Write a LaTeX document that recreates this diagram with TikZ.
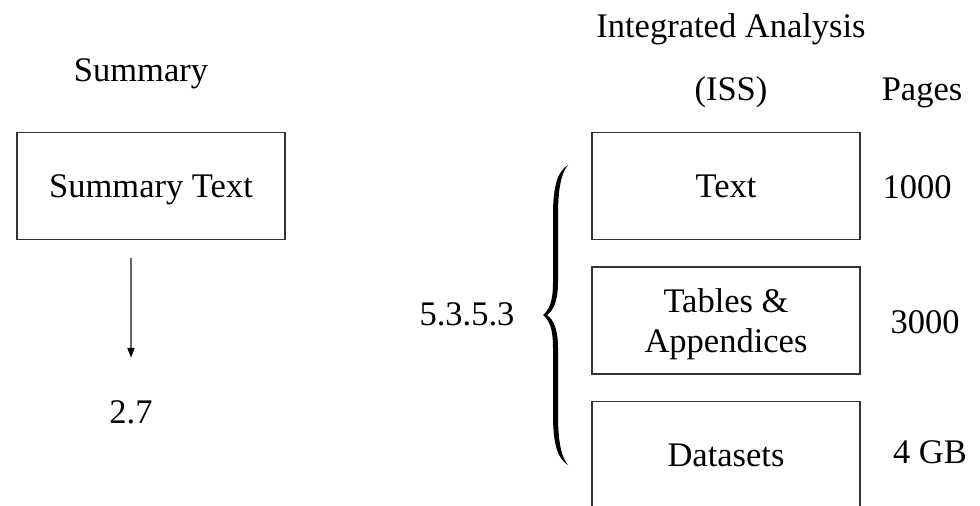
\documentclass[tikz,border=0pt]{standalone}
\usepackage{fontspec}
\setmainfont{Liberation Serif}
\usetikzlibrary{arrows.meta}
\begin{document}
\begin{tikzpicture}[x=0.5pt,y=-0.5pt,
  every node/.style={font=\fontsize{17.25}{20}\selectfont, inner sep=0pt},
  box/.style={draw=black!80, line width=0.7pt, minimum width=134pt, minimum height=53.5pt, align=center},
  one/.style={text height=16pt, text depth=5pt},
  lbl/.style={anchor=base},
  arr/.style={draw=black!60, line width=0.7pt, -{Triangle[width=3.6pt,length=5pt,color=black,fill=black]}}]
\clip (0,0) rectangle (980,505);
\fill[white] (0,0) rectangle (980,505);
% left side
\node[lbl] (sum) at (141,81) {Summary};
\node[box,one] (st) at (151,186) {Summary Text};
\node[lbl] (n27) at (131,423) {2.7};
\draw[arr, shorten <=9pt, shorten >=21pt] (n27 |- st.south) -- (n27);
% right side
\node[lbl] (ia) at (731,37) {Integrated Analysis};
\node[lbl] (iss) at (731,100) {(ISS)};
\node[lbl] (pages) at (922,100) {Pages};
\node[box,one] (tx) at (726,186) {Text};
\node[box] (tb) at (726,320.5) {\rule{0pt}{15.3pt}Tables \&\\Appendices};
\node[box,one] (ds) at (726,455) {Datasets};
\node[lbl] (p1) at (917,198) {1000};
\node[lbl] (p2) at (925,333) {3000};
\node[lbl] (p3) at (930,463) {4 GB};
\node[lbl] (sec) at (467,325) {5.3.5.3};
% brace
\fill[black]
  (568,165) .. controls (558,171) and (553,185) .. (553,215)
  -- (553,282) .. controls (553,300) and (550,309) .. (543,315)
  .. controls (550,321) and (553,330) .. (553,348)
  -- (553,415) .. controls (553,445) and (558,459) .. (568,465)
  .. controls (561,457) and (558,440) .. (558,415)
  -- (558,348) .. controls (558,330) and (554,320) .. (547,315)
  .. controls (554,310) and (558,300) .. (558,282)
  -- (558,215) .. controls (558,190) and (561,173) .. (568,165) -- cycle;
\end{tikzpicture}
\end{document}
